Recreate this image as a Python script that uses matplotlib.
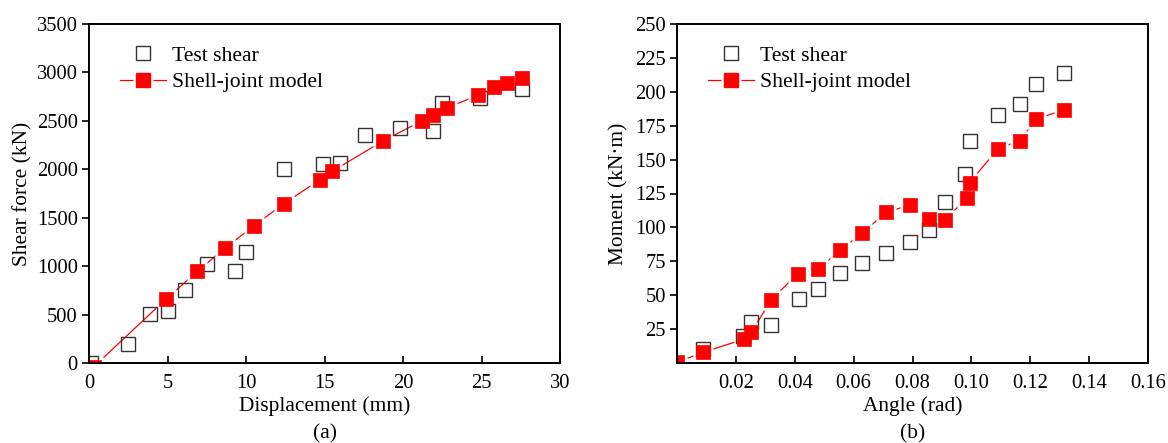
import matplotlib
matplotlib.use("Agg")
import matplotlib.pyplot as plt
from matplotlib.lines import Line2D
from matplotlib.legend_handler import HandlerTuple

plt.rcParams['font.family'] = ['Liberation Serif', 'DejaVu Serif']
plt.rcParams['font.size'] = 14.5

# (a) shear force vs displacement
disp_test = [0.15, 2.5, 3.9, 5.0, 6.1, 7.5, 9.3, 10.0, 12.4, 14.9, 16.0, 17.6, 19.8, 21.9, 22.5, 24.9, 27.6]
shear_test = [0, 200, 510, 540, 755, 1020, 945, 1150, 2000, 2055, 2070, 2355, 2430, 2400, 2680, 2740, 2825]
disp_model = [0.3, 4.9, 6.9, 8.65, 10.5, 12.4, 14.7, 15.5, 18.7, 21.2, 21.9, 22.8, 24.8, 25.8, 26.6, 27.6]
shear_model = [-40, 660, 945, 1185, 1415, 1645, 1890, 1980, 2290, 2500, 2565, 2635, 2765, 2845, 2890, 2945]

# (b) moment vs rotation angle
angle_test = [0.009, 0.0225, 0.0253, 0.032, 0.0414, 0.048, 0.0555, 0.063, 0.071, 0.0793,
              0.0857, 0.091, 0.098, 0.0994, 0.109, 0.1165, 0.122, 0.1313]
moment_test = [10, 20, 30, 28, 47.5, 54.5, 66.5, 73.5, 81, 89.5,
               98, 118.5, 139.5, 164, 183, 191, 205.5, 214]
angle_model = [0.0, 0.009, 0.0227, 0.0252, 0.032, 0.041, 0.048, 0.0555, 0.063, 0.071,
               0.079, 0.0857, 0.091, 0.0984, 0.0994, 0.109, 0.1165, 0.122, 0.1313]
moment_model = [0.5, 8, 17.5, 22.5, 46.5, 66, 69, 83.5, 96, 111,
                116.5, 106.5, 105.5, 121.5, 133, 158, 164, 180, 186.5]

RED = '#ff0000'
EDGE = '#333333'
MS_MODEL = 10
MS_TEST = 9.5
MS_HALO = 14.5

fig = plt.figure(figsize=(11.68, 4.43), dpi=100)
ax_a = fig.add_axes([89/1168, 1 - 363/443, (560-89)/1168, (363-24)/443])
ax_b = fig.add_axes([677/1168, 1 - 363/443, (1148-677)/1168, (363-24)/443])


def draw_panel(ax, xt, yt, xm, ym):
    # model curve: thin line broken around each marker by a white halo
    ax.plot(xm, ym, '-', color=RED, lw=0.9, zorder=2.0)
    ax.plot(xm, ym, 's', ls='none', ms=MS_HALO, mfc='white', mec='none', zorder=2.1)
    ax.plot(xt, yt, 's', ls='none', ms=MS_TEST, mfc='none', mec=EDGE, mew=1.0, zorder=2.2)
    ax.plot(xm, ym, 's', ls='none', ms=MS_MODEL, mfc=RED, mec=RED, mew=0.5, zorder=2.3)

    h_test = Line2D([], [], ls='none', marker='s', ms=MS_TEST, mfc='none', mec=EDGE, mew=1.0)
    h_line = Line2D([], [], color=RED, lw=0.9)
    h_halo = Line2D([], [], ls='none', marker='s', ms=MS_HALO, mfc='white', mec='none')
    h_mark = Line2D([], [], ls='none', marker='s', ms=MS_MODEL, mfc=RED, mec=RED)
    ax.legend([h_test, (h_line, h_halo, h_mark)], ['Test shear', 'Shell-joint model'],
              handler_map={tuple: HandlerTuple(ndivide=1)},
              loc='upper left', bbox_to_anchor=(0.066, 0.937), frameon=False,
              borderpad=0, borderaxespad=0, handlelength=2.1, handletextpad=0.3,
              labelspacing=0.3, fontsize=15.6, numpoints=1)

    for s in ax.spines.values():
        s.set_linewidth(1.4)
        s.set_color('black')
    ax.tick_params(axis='x', direction='in', length=5, width=1.2, pad=8, labelsize=14.8)
    ax.tick_params(axis='y', direction='out', length=5, width=1.2, pad=3, labelsize=14.8)


draw_panel(ax_a, disp_test, shear_test, disp_model, shear_model)
ax_a.set_xlim(0, 30)
ax_a.set_ylim(0, 3500)
ax_a.set_xticks([0, 5, 10, 15, 20, 25, 30])
ax_a.set_yticks([0, 500, 1000, 1500, 2000, 2500, 3000, 3500])
ax_a.set_xlabel('Displacement (mm)', fontsize=15.4, labelpad=2)
ax_a.set_ylabel('Shear force (kN)', fontsize=15.4, labelpad=3)
ax_a.text(0.5, -0.21, '(a)', transform=ax_a.transAxes, ha='center', va='center', fontsize=15.4)

draw_panel(ax_b, angle_test, moment_test, angle_model, moment_model)
ax_b.set_xlim(0, 0.16)
ax_b.set_ylim(0, 250)
ax_b.set_xticks([0.02, 0.04, 0.06, 0.08, 0.10, 0.12, 0.14, 0.16])
ax_b.set_xticklabels(['0.02', '0.04', '0.06', '0.08', '0.10', '0.12', '0.14', '0.16'])
ax_b.set_yticks([25, 50, 75, 100, 125, 150, 175, 200, 225, 250])
ax_b.set_xlabel('Angle (rad)', fontsize=15.4, labelpad=2)
ax_b.set_ylabel('Moment (kN·m)', fontsize=15.4, labelpad=5)
ax_b.text(0.5, -0.21, '(b)', transform=ax_b.transAxes, ha='center', va='center', fontsize=15.4)

fig.savefig('out.png', dpi=100)
